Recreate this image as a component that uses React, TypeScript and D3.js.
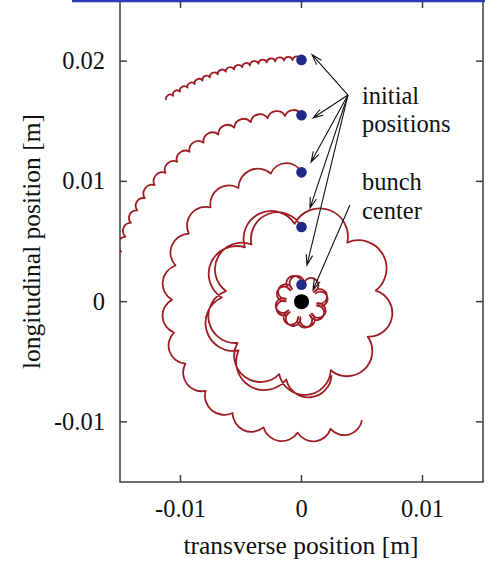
import React from "react";
import * as d3 from "d3";

const W = 494;
const H = 562;

const xTicks = [-0.01, 0, 0.01];
const xTickLabels = ["-0.01", "0", "0.01"];
const yTicks = [-0.01, 0, 0.01, 0.02];
const yTickLabels = ["-0.01", "0", "0.01", "0.02"];

// cusp points of each trajectory: angle (deg, counter-clockwise from +x) and radius (m)
const angA = [90, 92.1, 94.1, 96.2, 98.2, 100.2, 102.2, 104.1, 106.1, 108.1, 110.1, 112.1, 114.0, 116.0, 117.9, 119.9, 121.8, 123.7];
const radA = [0.0201, 0.0201, 0.0201, 0.0201, 0.0201, 0.0201, 0.0201, 0.0201, 0.0201, 0.02012, 0.02012, 0.02012, 0.02012, 0.02013, 0.02013, 0.02014, 0.02014, 0.02015];

const angB = [90, 95, 100.4, 105.7, 111, 116.3, 121.5, 126.6, 131.5, 136.4, 141.4, 146.4, 150.8, 155.1, 159.6, 164.4, 169, 173.5];
const radB = [0.0155, 0.0155, 0.0155, 0.0155, 0.0155, 0.0155, 0.0155, 0.01552, 0.01552, 0.01553, 0.01554, 0.01555, 0.01555, 0.01555, 0.01553, 0.01548, 0.0155, 0.0155];

const angC = [90, 103.4, 118.9, 133.8, 148.7, 163.9, 179.2, 193.7, 208.3, 223.1, 238.4, 253.3, 268.3, 282.8, 296.9];
const radC = [0.01075, 0.01095, 0.0108, 0.01085, 0.0109, 0.01084, 0.0107, 0.01085, 0.0109, 0.01086, 0.01087, 0.01092, 0.0109, 0.01085, 0.01105];

const angD = [90, 131, 172, 213, 253, 293, 332, 368.5, 412.4, 455, 496, 537, 578, 619, 652];
const radD = [0.0062, 0.0063, 0.0063, 0.0063, 0.0063, 0.0062, 0.0062, 0.0062, 0.0062, 0.0065, 0.0065, 0.0066, 0.0066, 0.0066, 0.0066];

const angE = [90, 134, 178, 222, 266, 310, 354, 398, 442, 486, 530, 574, 618, 662, 706, 750];
const radE = [0.0014, 0.0013, 0.0013, 0.0013, 0.0013, 0.0013, 0.0013, 0.0013, 0.0013, 0.0013, 0.0013, 0.0013, 0.0013, 0.0013, 0.0013, 0.0013];

const trajAngles = [angA, angB, angC, angD, angE];
const trajRadii = [radA, radB, radC, radD, radE];
const bulge = [0.4, 0.34, 0.32, 0.44, 1.0];

const initialY = [0.0201, 0.0155, 0.01075, 0.0062, 0.0014];

// annotation arrows (data coords)
const arrowSource = [0.00384, 0.01718];
const arrowTipsX = [0.00087, 0.00095, 0.00079, 0.0007, 0.00045];
const arrowTipsY = [0.02054, 0.01527, 0.01161, 0.00778, 0.00304];
const bunchFrom = [0.004, 0.00803];
const bunchTip = [0.00095, 0.00096];

const x = d3.scaleLinear().domain([-0.015, 0.015]).range([120, 483]);
const y = d3.scaleLinear().domain([-0.015, 0.025]).range([482, 1]);

function scallops(angles: number[], radii: number[], ratio: number) {
  const pts = angles.map((a, i) => {
    const t = (a * Math.PI) / 180;
    return [x(radii[i] * Math.cos(t)), y(radii[i] * Math.sin(t))];
  });
  let d = `M${pts[0][0]},${pts[0][1]}`;
  for (let i = 1; i < pts.length; i++) {
    const [x0, y0] = pts[i - 1];
    const [x1, y1] = pts[i];
    const c = Math.hypot(x1 - x0, y1 - y0);
    const h = ratio * c;
    const R = (c * c / 4 + h * h) / (2 * h);
    const large = h > c / 2 ? 1 : 0;
    d += `A${R},${R} 0 ${large} 0 ${x1},${y1}`;
  }
  return d;
}

function arrow(fx: number, fy: number, tx: number, ty: number, key: string) {
  const x0 = x(fx), y0 = y(fy), x1 = x(tx), y1 = y(ty);
  const a = Math.atan2(y1 - y0, x1 - x0);
  const len = 11, spread = 0.3;
  const b1 = [x1 - len * Math.cos(a - spread), y1 - len * Math.sin(a - spread)];
  const b2 = [x1 - len * Math.cos(a + spread), y1 - len * Math.sin(a + spread)];
  return (
    <path key={key}
      d={`M${x0},${y0}L${x1},${y1}M${b1[0]},${b1[1]}L${x1},${y1}L${b2[0]},${b2[1]}`}
      fill="none" stroke="#111" strokeWidth={1.1} />
  );
}

export default function App() {
  const font = "'Liberation Serif', 'Times New Roman', serif";
  const axis = "#3c3c3c";
  return (
    <svg width={W} height={H} style={{ position: "absolute", left: 0, top: 0, background: "#fff" }}
      fontFamily={font}>
      <defs>
        <clipPath id="plot">
          <rect x={120} y={1} width={363} height={481} />
        </clipPath>
      </defs>

      <g clipPath="url(#plot)">
        {trajAngles.map((a, i) => (
          <path key={i} d={scallops(a, trajRadii[i], bulge[i])} fill="none"
            stroke="#a11d25" strokeWidth={1.8} strokeLinejoin="round" />
        ))}
      </g>

      {initialY.map((v, i) => (
        <circle key={i} cx={x(0)} cy={y(v)} r={5.3} fill="#1f2a86" />
      ))}
      <circle cx={x(0)} cy={y(0)} r={7.5} fill="#000" />

      {arrowTipsX.map((tx, i) => arrow(arrowSource[0], arrowSource[1], tx, arrowTipsY[i], "a" + i))}
      {arrow(bunchFrom[0], bunchFrom[1], bunchTip[0], bunchTip[1], "b")}

      <g fontSize={24.5} fill="#111">
        <text x={362} y={103.5}>initial</text>
        <text x={362} y={132}>positions</text>
        <text x={362} y={190}>bunch</text>
        <text x={362} y={218.5}>center</text>
      </g>

      {/* frame */}
      <rect x={120} y={1} width={363} height={481} fill="none" stroke={axis} strokeWidth={1.5} />
      {xTicks.map((t) => (
        <g key={t}>
          <line x1={x(t)} x2={x(t)} y1={482} y2={475} stroke={axis} strokeWidth={1.5} />
          <line x1={x(t)} x2={x(t)} y1={1} y2={8} stroke={axis} strokeWidth={1.5} />
        </g>
      ))}
      {yTicks.map((t) => (
        <g key={t}>
          <line x1={120} x2={127} y1={y(t)} y2={y(t)} stroke={axis} strokeWidth={1.5} />
          <line x1={483} x2={476} y1={y(t)} y2={y(t)} stroke={axis} strokeWidth={1.5} />
        </g>
      ))}
      <line x1={72} x2={485} y1={1} y2={1} stroke="#2b3bb0" strokeWidth={2.5} />

      <g fontSize={24.5} fill="#111">
        {xTicks.map((t, i) => (
          <text key={t} x={x(t)} y={517} textAnchor="middle">{xTickLabels[i]}</text>
        ))}
        {yTicks.map((t, i) => (
          <text key={t} x={105} y={y(t) + 8} textAnchor="end">{yTickLabels[i]}</text>
        ))}
      </g>

      <text x={301} y={554} fontSize={25.5} textAnchor="middle" fill="#111">transverse position [m]</text>
      <text transform={`translate(40,${(1 + 482) / 2}) rotate(-90)`} fontSize={25.5}
        textAnchor="middle" fill="#111">longitudinal position [m]</text>
    </svg>
  );
}
